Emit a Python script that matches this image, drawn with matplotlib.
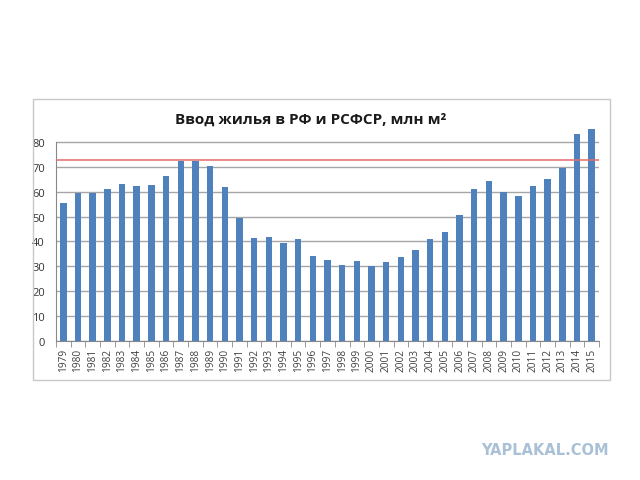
import numpy as np
import matplotlib.pyplot as plt
from matplotlib.patches import Rectangle

years = list(range(1979, 2016))
values = [55.5, 59.5, 59.5, 61.0, 63.2, 62.3, 62.5, 66.3, 72.5, 72.5,
          70.5, 61.7, 49.5, 41.5, 41.8, 39.2, 41.0, 34.3, 32.7, 30.7,
          32.0, 30.3, 31.7, 33.8, 36.4, 41.0, 43.6, 50.6, 61.2, 64.1,
          59.9, 58.4, 62.3, 65.2, 69.4, 83.1, 85.3]
level_1987 = 72.8
title = 'Ввод жилья в РФ и РСФСР, млн м²'

plt.rcParams['font.family'] = ['Open Sans', 'DejaVu Sans']

fig = plt.figure(figsize=(6.4, 4.81), dpi=100)
fig.patch.set_facecolor('white')

# chart frame
fig.patches.append(Rectangle((33 / 640, 1 - 381 / 481), 577 / 640, 281 / 481,
                             transform=fig.transFigure, fill=False,
                             edgecolor='#c8c8c8', linewidth=1))

ax = fig.add_axes([56 / 640, 139 / 481, 543 / 640, 219 / 481])
x = np.arange(len(years))
ax.bar(x, values, width=0.44, color='#4f81bd', zorder=3)
ax.axhline(level_1987, color='#e36b6b', linewidth=1.1, zorder=4)

ax.set_xlim(-0.5, len(years) - 0.5)
ax.set_ylim(0, 88)
ax.set_yticks(range(0, 90, 10))
ax.yaxis.grid(True, color='#a6a6a6', linewidth=1, zorder=0)
for s in ['top', 'right']:
    ax.spines[s].set_visible(False)
ax.spines['left'].set_color('#888888')
ax.spines['left'].set_bounds(0, 80)
ax.spines['bottom'].set_color('#888888')

ax.set_xticks(x)
ax.set_xticklabels([str(y) for y in years], rotation=90, fontsize=7.3, color='#404040')
ax.tick_params(axis='x', length=0, pad=5)
ax.set_xticks(np.arange(-0.5, len(years), 1), minor=True)
ax.tick_params(axis='x', which='minor', length=4, color='#888888')
ax.tick_params(axis='y', length=0, labelsize=8, labelcolor='#333333', pad=8)

fig.text(311 / 640, 1 - 120 / 481, title, ha='center', va='center',
         fontsize=11, fontweight='bold', color='#1a1a1a')

fig.text(545 / 640, 1 - 451 / 481, 'YAPLAKAL.COM', ha='center', va='center',
         fontsize=10.5, fontweight='bold', color='#a9c0d6', family='DejaVu Sans')

plt.savefig('out.png', dpi=100)
